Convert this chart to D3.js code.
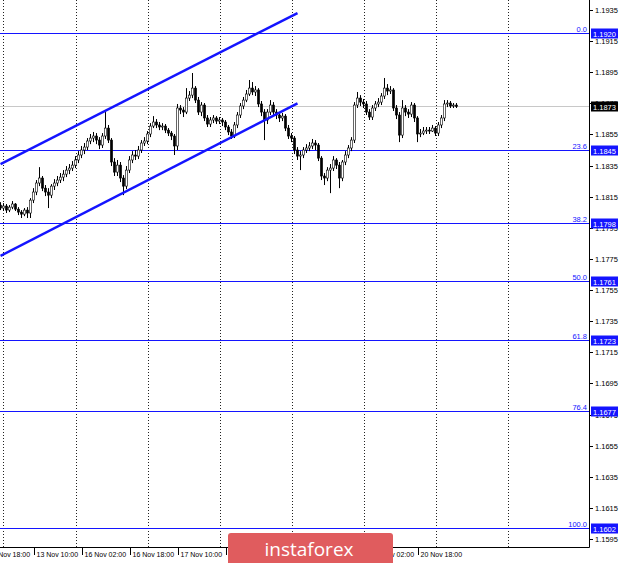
<!DOCTYPE html>
<html>
<head>
<meta charset="utf-8">
<script src="https://cdn.jsdelivr.net/npm/d3@7"></script>
<style>
  html, body { margin: 0; padding: 0; background: #fff; }
  svg { display: block; }
  text { font-family: "Liberation Sans", Arial, sans-serif; }
</style>
</head>
<body>
<svg id="chart" width="620" height="563"></svg>
<script>
// ---- data (EURUSD H1 candles) ----
const openP = [1.18096,1.18077,1.18090,1.18064,1.18083,1.18103,1.18070,1.18051,1.18038,1.18064,
1.18045,1.18128,1.18180,1.18238,1.18270,1.18205,1.18180,1.18160,1.18218,1.18238,
1.18257,1.18276,1.18295,1.18321,1.18334,1.18353,1.18386,1.18418,1.18450,1.18469,
1.18508,1.18527,1.18540,1.18514,1.18482,1.18540,1.18591,1.18514,1.18373,1.18308,
1.18353,1.18270,1.18218,1.18321,1.18386,1.18418,1.18411,1.18450,1.18495,1.18508,
1.18553,1.18604,1.18630,1.18611,1.18598,1.18604,1.18578,1.18559,1.18540,1.18476,
1.18720,1.18707,1.18694,1.18784,1.18803,1.18848,1.18771,1.18694,1.18739,1.18656,
1.18617,1.18643,1.18656,1.18636,1.18643,1.18630,1.18598,1.18566,1.18540,1.18611,
1.18675,1.18733,1.18771,1.18810,1.18848,1.18823,1.18836,1.18746,1.18694,1.18643,
1.18694,1.18739,1.18694,1.18675,1.18656,1.18668,1.18591,1.18540,1.18527,1.18450,
1.18411,1.18418,1.18450,1.18463,1.18476,1.18495,1.18482,1.18398,1.18283,1.18270,
1.18321,1.18334,1.18386,1.18353,1.18270,1.18373,1.18418,1.18463,1.18514,1.18739,
1.18784,1.18758,1.18746,1.18694,1.18662,1.18720,1.18746,1.18758,1.18797,1.18848,
1.18829,1.18836,1.18720,1.18675,1.18546,1.18720,1.18694,1.18681,1.18739,1.18656,
1.18553,1.18559,1.18572,1.18578,1.18572,1.18591,1.18559,1.18611,1.18656,1.18746,
1.18752,1.18733,1.18739];
const closeP = [1.18077,1.18090,1.18064,1.18083,1.18103,1.18070,1.18051,1.18038,1.18064,1.18045,
1.18128,1.18180,1.18238,1.18270,1.18205,1.18180,1.18160,1.18218,1.18238,1.18257,
1.18276,1.18295,1.18321,1.18334,1.18353,1.18386,1.18418,1.18450,1.18469,1.18508,
1.18527,1.18540,1.18514,1.18482,1.18540,1.18591,1.18514,1.18373,1.18308,1.18353,
1.18270,1.18218,1.18321,1.18386,1.18418,1.18411,1.18450,1.18495,1.18508,1.18553,
1.18604,1.18630,1.18611,1.18598,1.18604,1.18578,1.18559,1.18540,1.18476,1.18720,
1.18707,1.18694,1.18784,1.18803,1.18848,1.18771,1.18694,1.18739,1.18656,1.18617,
1.18643,1.18656,1.18636,1.18643,1.18630,1.18598,1.18566,1.18540,1.18611,1.18675,
1.18733,1.18771,1.18810,1.18848,1.18823,1.18836,1.18746,1.18694,1.18643,1.18694,
1.18739,1.18694,1.18675,1.18656,1.18668,1.18591,1.18540,1.18527,1.18450,1.18411,
1.18418,1.18450,1.18463,1.18476,1.18495,1.18482,1.18398,1.18283,1.18270,1.18321,
1.18334,1.18386,1.18353,1.18270,1.18373,1.18418,1.18463,1.18514,1.18739,1.18784,
1.18758,1.18746,1.18694,1.18662,1.18720,1.18746,1.18758,1.18797,1.18848,1.18829,
1.18836,1.18720,1.18675,1.18546,1.18720,1.18694,1.18681,1.18739,1.18656,1.18553,
1.18559,1.18572,1.18578,1.18572,1.18591,1.18559,1.18611,1.18656,1.18746,1.18752,
1.18733,1.18739,1.18730];
const highP = [1.18115,1.18109,1.18103,1.18096,1.18122,1.18109,1.18083,1.18064,1.18077,1.18083,
1.18141,1.18205,1.18257,1.18340,1.18283,1.18225,1.18205,1.18231,1.18263,1.18283,
1.18302,1.18321,1.18347,1.18360,1.18379,1.18411,1.18443,1.18476,1.18495,1.18527,
1.18553,1.18566,1.18559,1.18533,1.18559,1.18694,1.18611,1.18527,1.18398,1.18386,
1.18373,1.18289,1.18347,1.18411,1.18443,1.18450,1.18476,1.18514,1.18533,1.18572,
1.18623,1.18668,1.18649,1.18630,1.18623,1.18617,1.18591,1.18572,1.18553,1.18746,
1.18739,1.18726,1.18848,1.18829,1.18945,1.18861,1.18791,1.18758,1.18752,1.18675,
1.18662,1.18675,1.18668,1.18662,1.18656,1.18643,1.18611,1.18585,1.18630,1.18694,
1.18752,1.18791,1.18836,1.18900,1.18887,1.18861,1.18848,1.18765,1.18713,1.18713,
1.18771,1.18758,1.18713,1.18694,1.18688,1.18681,1.18611,1.18559,1.18540,1.18469,
1.18443,1.18469,1.18488,1.18501,1.18521,1.18514,1.18495,1.18411,1.18302,1.18340,
1.18360,1.18411,1.18398,1.18373,1.18386,1.18443,1.18482,1.18533,1.18758,1.18823,
1.18803,1.18778,1.18765,1.18713,1.18739,1.18765,1.18784,1.18816,1.18913,1.18874,
1.18861,1.18848,1.18739,1.18694,1.18771,1.18739,1.18713,1.18758,1.18752,1.18668,
1.18585,1.18598,1.18598,1.18598,1.18611,1.18604,1.18630,1.18675,1.18771,1.18771,
1.18765,1.18752,1.18752];
const lowP = [1.18064,1.18058,1.18045,1.18051,1.18070,1.18058,1.18032,1.18013,1.18025,1.18013,
1.18013,1.18109,1.18160,1.18218,1.18186,1.18154,1.18077,1.18141,1.18193,1.18218,
1.18238,1.18250,1.18276,1.18295,1.18315,1.18334,1.18366,1.18398,1.18424,1.18450,
1.18488,1.18501,1.18488,1.18456,1.18463,1.18521,1.18495,1.18347,1.18283,1.18283,
1.18244,1.18160,1.18199,1.18302,1.18366,1.18386,1.18392,1.18431,1.18476,1.18488,
1.18533,1.18591,1.18591,1.18578,1.18578,1.18559,1.18540,1.18514,1.18418,1.18450,
1.18681,1.18662,1.18681,1.18765,1.18784,1.18752,1.18675,1.18668,1.18636,1.18598,
1.18598,1.18623,1.18617,1.18617,1.18604,1.18578,1.18546,1.18521,1.18527,1.18591,
1.18656,1.18713,1.18758,1.18797,1.18803,1.18797,1.18726,1.18668,1.18514,1.18617,
1.18675,1.18668,1.18649,1.18630,1.18636,1.18572,1.18521,1.18501,1.18424,1.18386,
1.18321,1.18398,1.18431,1.18443,1.18456,1.18450,1.18379,1.18257,1.18225,1.18250,
1.18173,1.18315,1.18328,1.18205,1.18250,1.18353,1.18398,1.18443,1.18495,1.18720,
1.18733,1.18720,1.18675,1.18643,1.18643,1.18701,1.18726,1.18739,1.18778,1.18803,
1.18810,1.18701,1.18649,1.18501,1.18527,1.18668,1.18656,1.18662,1.18630,1.18501,
1.18533,1.18546,1.18553,1.18553,1.18566,1.18540,1.18540,1.18591,1.18636,1.18726,
1.18720,1.18720,1.18720];

const xTickBars   = [-5, 11, 27, 43, 59, 75, 91, 107, 123, 139];
const xTickLabels = ["12 Nov 18:00", "13 Nov 10:00", "16 Nov 02:00", "16 Nov 18:00", "17 Nov 10:00",
                     "18 Nov 02:00", "18 Nov 18:00", "19 Nov 10:00", "20 Nov 02:00", "20 Nov 18:00"];
const daySeparatorBars = [1, 25, 49, 73, 97, 121, 145, 169];
const yTickValues = [1.1595, 1.1615, 1.1635, 1.1655, 1.1675, 1.1695, 1.1715, 1.1735, 1.1755,
                     1.1775, 1.1795, 1.1815, 1.1835, 1.1855, 1.1875, 1.1895, 1.1915, 1.1935];
const fibLevels = ["0.0", "23.6", "38.2", "50.0", "61.8", "76.4", "100.0"];
const fibPrices = [1.1920, 1.1845, 1.1798, 1.1761, 1.1723, 1.1677, 1.1602];
const lastPrice = 1.1873;
const upperChannel = [{bar: 0, price: 1.1836}, {bar: 99, price: 1.1933}];
const lowerChannel = [{bar: 0, price: 1.1777}, {bar: 99, price: 1.1875}];

// ---- layout ----
const W = 620, H = 563;
const plotRight = 589, plotBottom = 547;
const svg = d3.select("#chart");
svg.append("rect").attr("width", W).attr("height", H).attr("fill", "#fff");

const x = d3.scaleLinear().domain([0, 152]).range([0.5, 456.5]);
const y = d3.scaleLinear().domain([1.1595, 1.1935]).range([539, 10]);

const blue = "#1414ff";

// day separators
svg.append("g").selectAll("line").data(daySeparatorBars).join("line")
  .attr("x1", d => Math.round(x(d)) + 0.5).attr("x2", d => Math.round(x(d)) + 0.5)
  .attr("y1", 0).attr("y2", plotBottom)
  .attr("stroke", "#222").attr("stroke-width", 1).attr("stroke-dasharray", "1,2");

// last price line
svg.append("line")
  .attr("x1", 0).attr("x2", plotRight)
  .attr("y1", Math.round(y(lastPrice)) + 0.5).attr("y2", Math.round(y(lastPrice)) + 0.5)
  .attr("stroke", "#c8c8c8").attr("stroke-width", 1);

// fibo lines
const fib = fibLevels.map((l, i) => ({level: l, price: fibPrices[i]}));
svg.append("g").selectAll("line").data(fib).join("line")
  .attr("x1", 0).attr("x2", plotRight)
  .attr("y1", d => Math.round(y(d.price)) + 0.5).attr("y2", d => Math.round(y(d.price)) + 0.5)
  .attr("stroke", blue).attr("stroke-width", 1);
svg.append("g").selectAll("text").data(fib).join("text")
  .attr("x", plotRight - 2).attr("y", d => Math.round(y(d.price)) - 1.5)
  .attr("text-anchor", "end").attr("font-size", 7.5).attr("fill", blue)
  .text(d => d.level);

// candles
const candles = d3.range(openP.length).map(i => ({i, o: openP[i], c: closeP[i], h: highP[i], l: lowP[i]}));
const cg = svg.append("g");
cg.selectAll("line").data(candles).join("line")
  .attr("x1", d => x(d.i)).attr("x2", d => x(d.i))
  .attr("y1", d => y(d.h)).attr("y2", d => y(d.l))
  .attr("stroke", "#000").attr("stroke-width", 1);
cg.selectAll("rect").data(candles).join("rect")
  .attr("x", d => x(d.i) - 1.1).attr("width", 2.2)
  .attr("y", d => y(Math.max(d.o, d.c)))
  .attr("height", d => Math.max(0.8, Math.abs(y(d.o) - y(d.c))))
  .attr("fill", d => d.c >= d.o ? "#fff" : "#000")
  .attr("stroke", "#000").attr("stroke-width", 0.6);

// channel lines
const line = d3.line().x(d => x(d.bar)).y(d => y(d.price));
[upperChannel, lowerChannel].forEach(ch => {
  svg.append("path").attr("d", line(ch)).attr("fill", "none")
    .attr("stroke", blue).attr("stroke-width", 2.5);
});

// axes
svg.append("line").attr("x1", plotRight + 0.5).attr("x2", plotRight + 0.5)
  .attr("y1", 0).attr("y2", plotBottom + 0.5).attr("stroke", "#000");
svg.append("line").attr("x1", 0).attr("x2", plotRight + 0.5)
  .attr("y1", plotBottom + 0.5).attr("y2", plotBottom + 0.5).attr("stroke", "#000");

const yt = svg.append("g");
yt.selectAll("line").data(yTickValues).join("line")
  .attr("x1", plotRight).attr("x2", plotRight + 4)
  .attr("y1", d => Math.round(y(d)) + 0.5).attr("y2", d => Math.round(y(d)) + 0.5)
  .attr("stroke", "#000");
yt.selectAll("text").data(yTickValues).join("text")
  .attr("x", plotRight + 6).attr("y", d => y(d) + 3)
  .attr("font-size", 7.5).attr("fill", "#000")
  .text(d => d.toFixed(4));

const xt = svg.append("g");
xt.selectAll("line").data(xTickBars).join("line")
  .attr("x1", d => Math.round(x(d)) + 0.5).attr("x2", d => Math.round(x(d)) + 0.5)
  .attr("y1", plotBottom + 1).attr("y2", plotBottom + 8)
  .attr("stroke", "#000");
xt.selectAll("text").data(xTickBars).join("text")
  .attr("x", d => x(d) + 3).attr("y", plotBottom + 10)
  .attr("font-size", 7).attr("fill", "#000")
  .text((d, i) => xTickLabels[i]);

// price labels on the axis
function axisLabel(price, bg) {
  const g = svg.append("g");
  g.append("rect").attr("x", plotRight + 2).attr("y", Math.round(y(price)) - 4.5)
    .attr("width", 27).attr("height", 10).attr("fill", bg);
  g.append("text").attr("x", plotRight + 4).attr("y", Math.round(y(price)) + 3.5)
    .attr("font-size", 7.5).attr("fill", "#fff").text(price.toFixed(4));
}
fibPrices.forEach(p => axisLabel(p, blue));
axisLabel(lastPrice, "#000");

// watermark
svg.append("rect").attr("x", 228).attr("y", 533).attr("width", 165).attr("height", 36)
  .attr("rx", 3).attr("fill", "#e05c5e");
svg.append("text").attr("x", 309).attr("y", 556).attr("text-anchor", "middle")
  .attr("font-size", 19).attr("fill", "#fff")
  .style("font-family", "'Open Sans', sans-serif")
  .text("instaforex");
</script>
</body>
</html>
